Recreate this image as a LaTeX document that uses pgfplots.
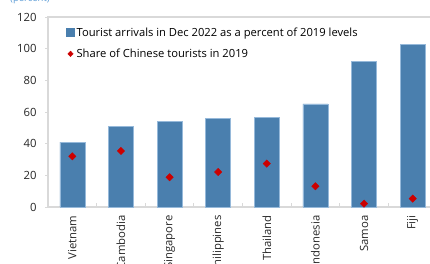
\documentclass[border=0pt]{standalone}
\usepackage{fontspec}
\setmainfont{Open Sans}
\usepackage{pgfplots}
\pgfplotsset{compat=1.18}
\definecolor{barblue}{RGB}{74,127,174}
\definecolor{baredge}{RGB}{150,185,218}
\definecolor{dotred}{RGB}{204,0,0}
\definecolor{axgray}{RGB}{217,217,217}
\definecolor{titleblue}{RGB}{91,155,213}
\begin{document}
\begin{tikzpicture}[x=1pt,y=1pt]
\useasboundingbox (0,0) rectangle (430,264);
\clip (0,0) rectangle (430,264);
\node[anchor=base west, font=\fontsize{9.5}{10}\selectfont, text=titleblue, inner sep=0pt] at (10,262) {(percent)};
\begin{axis}[
  at={(48pt,57pt)}, anchor=south west,
  scale only axis, width=389pt, height=190pt,
  xmin=-0.5, xmax=7.5, ymin=0, ymax=120,
  ytick={0,20,...,120},
  xtick={0,...,7},
  xticklabels={Vietnam,Cambodia,Singapore,Philippines,Thailand,Indonesia,Samoa,Fiji},
  minor xtick={0.5,1.5,...,6.5},
  major x tick style={draw=none},
  minor x tick style={draw=axgray, line width=0.8pt},
  minor tick length=4pt,
  y tick style={draw=axgray, line width=0.8pt, xshift=-3pt},
  major tick length=3pt,
  tick align=inside,
  xtick pos=bottom, ytick pos=left,
  axis line style={draw=axgray, line width=1.2pt},
  ticklabel style={font=\fontsize{11.3}{12}\selectfont, text=black!85},
  xticklabel style={yshift=-5pt, rotate=90, anchor=east},
  yticklabel style={xshift=-8pt},
  /pgf/number format/assume math mode=true,
  legend cell align=left,
  legend style={draw=none, fill=none, at={(0.047,0.955)}, anchor=north west,
    font=\fontsize{11.2}{12}\selectfont, row sep=7pt, inner sep=0pt},
  clip=false,
]
\addplot[ybar, bar width=25pt, fill=barblue, draw=baredge, line width=0.6pt,
  area legend,
  legend image code/.code={\fill[barblue] (0pt,-3.5pt) rectangle (7.5pt,4pt);}]
  coordinates {(0,41) (1,50.7) (2,53.9) (3,56) (4,56.7) (5,65.1) (6,92) (7,102.8)};
\addlegendentry{Tourist arrivals in Dec 2022 as a percent of 2019 levels}
\addplot[only marks, mark=square*, mark options={rotate=45}, mark size=2.6pt, color=dotred,
  legend image code/.code={\fill[dotred] (3.75pt,-2.8pt) -- (6.5pt,0pt) -- (3.75pt,2.8pt) -- (1pt,0pt) -- cycle;}]
  coordinates {(0,32) (1,35.4) (2,18.8) (3,22.1) (4,27.4) (5,13.1) (6,2.1) (7,5.3)};
\addlegendentry{Share of Chinese tourists in 2019}
\end{axis}
\end{tikzpicture}
\end{document}
